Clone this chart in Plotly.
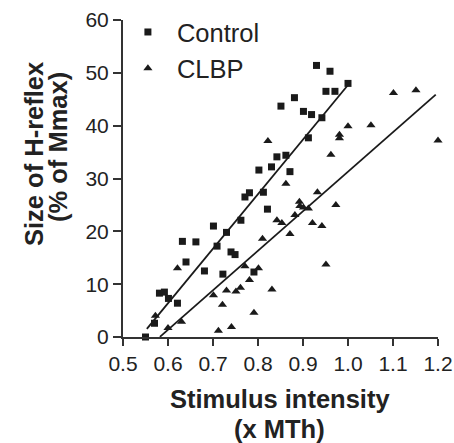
import plotly.graph_objects as go

# ---- data ----
control_x = [0.550, 0.570, 0.581, 0.592, 0.601, 0.621, 0.632, 0.640, 0.662, 0.681,
             0.701, 0.709, 0.722, 0.730, 0.740, 0.749, 0.762, 0.771, 0.781, 0.791,
             0.802, 0.812, 0.821, 0.830, 0.842, 0.851, 0.862, 0.871, 0.881, 0.901,
             0.912, 0.919, 0.930, 0.942, 0.951, 0.960, 0.971, 1.000]
control_y = [0.0, 2.6, 8.3, 8.5, 7.3, 6.4, 18.1, 14.2, 18.0, 12.5,
             21.0, 17.2, 11.9, 19.8, 16.1, 15.6, 22.1, 26.5, 27.3, 12.3,
             31.6, 27.4, 24.2, 32.2, 34.1, 43.7, 34.4, 31.3, 45.3, 42.7,
             37.7, 42.1, 51.4, 41.5, 46.5, 50.3, 46.5, 48.0]

clbp_x = [0.572, 0.600, 0.621, 0.630, 0.701, 0.712, 0.721, 0.730, 0.741, 0.751,
          0.761, 0.771, 0.781, 0.791, 0.801, 0.810, 0.822, 0.831, 0.842, 0.853,
          0.862, 0.871, 0.882, 0.892, 0.893, 0.901, 0.912, 0.921, 0.932, 0.942,
          0.951, 0.962, 0.973, 0.981, 0.981, 1.000, 1.051, 1.101, 1.151, 1.200]
clbp_y = [4.0, 1.7, 13.0, 2.9, 7.9, 1.2, 6.1, 8.8, 1.9, 8.6,
          9.3, 13.4, 10.8, 4.6, 13.0, 18.6, 37.1, 9.0, 22.1, 21.6,
          29.0, 19.5, 23.1, 25.6, 24.8, 24.5, 24.3, 21.6, 27.4, 21.0,
          13.7, 34.5, 25.0, 38.3, 37.6, 39.9, 40.1, 46.2, 46.7, 37.2]

# regression lines: slope, intercept, x-extent
control_fit = {"slope": 103.3, "intercept": -55.6, "x": [0.553, 1.0]}
clbp_fit = {"slope": 74.8, "intercept": -43.5, "x": [0.582, 1.195]}

x_ticks = [0.5, 0.6, 0.7, 0.8, 0.9, 1.0, 1.1, 1.2]
y_ticks = [0, 10, 20, 30, 40, 50, 60]

FONT = "Liberation Sans, Arial, sans-serif"
INK = "#1a1a1a"
TXT = "#222"

fig = go.Figure()

def fit_line(fit):
    xs = fit["x"]
    return xs, [fit["slope"] * v + fit["intercept"] for v in xs]

for fit in (control_fit, clbp_fit):
    fx, fy = fit_line(fit)
    fig.add_trace(go.Scatter(x=fx, y=fy, mode="lines", showlegend=False,
                             line=dict(color=INK, width=1.8), hoverinfo="skip"))

fig.add_trace(go.Scatter(x=control_x, y=control_y, mode="markers", name="Control",
                         marker=dict(symbol="square", size=7, color=INK),
                         cliponaxis=False))
fig.add_trace(go.Scatter(x=clbp_x, y=clbp_y, mode="markers", name="CLBP",
                         marker=dict(symbol="triangle-up", size=8, color=INK),
                         cliponaxis=False))

axis_common = dict(showgrid=False, zeroline=False, showline=True, linecolor="#333",
                   linewidth=2, ticks="outside", tickcolor="#333", tickwidth=2,
                   tickfont=dict(family=FONT, size=21, color=TXT))

fig.update_xaxes(range=[0.5, 1.2], tickvals=x_ticks, tickformat=".1f", ticklen=7,
                 ticklabelstandoff=0, **axis_common)
fig.update_yaxes(range=[0, 60], tickvals=y_ticks, ticklen=8, **axis_common)

TITLE_FS = 25.5

fig.update_layout(
    width=454, height=443,
    margin=dict(l=123, r=16, t=20, b=106, autoexpand=False),
    paper_bgcolor="white", plot_bgcolor="white",
    font=dict(family=FONT, color=TXT),
    legend=dict(x=-0.013, y=1.035, xanchor="left", yanchor="top",
                font=dict(family=FONT, size=25.5, color=TXT),
                bgcolor="rgba(0,0,0,0)", tracegroupgap=0, itemwidth=48),
    annotations=[
        dict(text="<b>Stimulus intensity</b>", xref="paper", yref="paper",
             x=0.498, y=(337 - 399) / 317, xanchor="center", yanchor="middle",
             showarrow=False, font=dict(family=FONT, size=TITLE_FS, color=TXT)),
        dict(text="<b>(x MTh)</b>", xref="paper", yref="paper",
             x=0.498, y=(337 - 429) / 317, xanchor="center", yanchor="middle",
             showarrow=False, font=dict(family=FONT, size=TITLE_FS, color=TXT)),
        dict(text="<b>Size of H-reflex</b>", xref="paper", yref="paper",
             x=(34 - 123) / 315, y=(337 - 154) / 317, xanchor="center", yanchor="middle",
             textangle=-90, showarrow=False, font=dict(family=FONT, size=TITLE_FS, color=TXT)),
        dict(text="<b>(% of Mmax)</b>", xref="paper", yref="paper",
             x=(58 - 123) / 315, y=(337 - 147) / 317, xanchor="center", yanchor="middle",
             textangle=-90, showarrow=False, font=dict(family=FONT, size=TITLE_FS, color=TXT)),
    ],
)

fig.write_html("out.html")
